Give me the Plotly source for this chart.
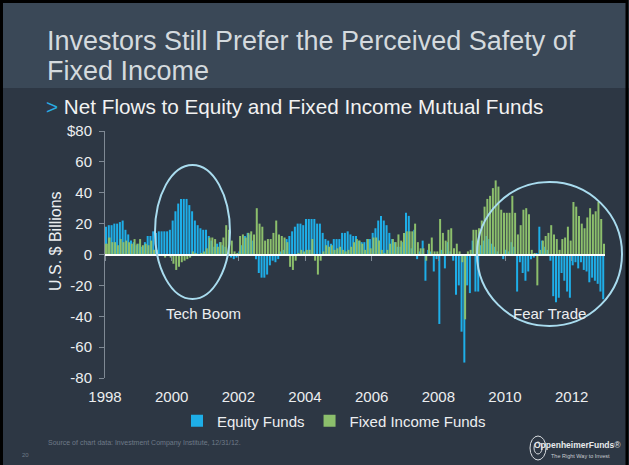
import plotly.graph_objects as go

# Monthly net flows, $ billions, Jan 1998 - Dec 2012
equity_by_year = {
    1998: [18, 19, 19, 20, 20, 21, 22, 16, 13, 9, 8, 6],
    1999: [7, 5, 8, 12, 12, 15, 14, 15, 15, 15, 15, 16],
    2000: [22, 28, 33, 36, 36, 36, 32, 28, 22, 19, 17, 16],
    2001: [16, 12, 9, 5, 7, 8, 6, 5, 1, -2, -3, -2],
    2002: [2, 6, 12, 14, 13, 9, -3, -12, -15, -15, -13, -7],
    2003: [-4, -5, -3, 2, 3, 10, 12, 15, 18, 20, 20, 19],
    2004: [23, 23, 23, 23, 20, 20, 14, 10, 9, 7, 10, 10],
    2005: [10, 14, 14, 15, 13, 12, 12, 9, 8, 8, 10, 10],
    2006: [14, 17, 22, 25, 22, 19, 14, 10, 8, 5, 5, 8],
    2007: [27, 25, 4, 16, -3, 2, 9, -17, 3, 2, -11, -3],
    2008: [-45, 3, -9, 8, 2, -4, -26, -20, -50, -70, -20, -25],
    2009: [9, -24, -24, 6, 9, 12, 10, 7, 5, 2, -1, -3],
    2010: [3, 2, 8, 5, -24, -5, -12, -17, -11, -3, -2, 1],
    2011: [18, 9, 5, 3, -4, -27, -31, -28, -12, -17, -24, -28],
    2012: [-7, -5, -9, -5, -10, -11, -18, -15, -17, -19, -24, -29],
}
fixed_by_year = {
    1998: [7, 11, 8, 8, 6, 10, 8, 9, 8, 7, 10, 7],
    1999: [10, 6, 7, 6, 9, 3, 3, -1, -1, -2, -1, -2],
    2000: [-6, -10, -8, -5, -4, -3, -2, 2, 1, -1, 1, 2],
    2001: [4, 11, 11, 10, 5, 8, 11, 19, 16, 9, 2, 1],
    2002: [12, 13, 11, 14, 15, 13, 30, 20, 18, 9, 10, 10],
    2003: [14, 22, 13, 12, 11, 8, -8, -10, -4, 1, 3, 2],
    2004: [3, 3, 10, -4, -13, -4, 2, 6, 5, 6, 3, 4],
    2005: [5, 3, 2, 3, 5, 8, 10, 9, 7, 3, 10, 4],
    2006: [11, 11, 9, 3, 1, 3, 7, 10, 8, 13, 9, 14],
    2007: [15, 15, 15, 20, 8, 4, 4, -4, 7, 11, 2, 2],
    2008: [23, 14, 9, 16, 17, 4, 7, 2, -5, -42, 2, 3],
    2009: [16, 16, 17, 22, 31, 36, 38, 43, 48, 44, 29, 27],
    2010: [27, 27, 38, 27, 13, 19, 29, 30, 26, 3, 1, -20],
    2011: [3, 9, 12, 14, 19, 13, 10, 3, 10, 11, 18, 9],
    2012: [34, 31, 25, 20, 17, 24, 30, 26, 28, 34, 23, 7],
}
tick_years = [1998, 2000, 2002, 2004, 2006, 2008, 2010, 2012]
y_ticks = [-80, -60, -40, -20, 0, 20, 40, 60, 80]

equity = [v for yr in sorted(equity_by_year) for v in equity_by_year[yr]]
fixed = [v for yr in sorted(fixed_by_year) for v in fixed_by_year[yr]]
months = list(range(len(equity)))
tickvals = [(y - 1998) * 12 - 0.5 for y in tick_years]

BG = "#2d3744"
BAND = "#3a4857"
BLUE = "#1eaee8"
GREEN = "#8cbf6c"
AXIS = "#7f8994"
TXT = "#eceef0"

# plot area in pixels: left 105, right 605, top 131, bottom 378
L, R, T, B = 105, 605, 131, 378
def px(x):
    return (x - L) / (R - L)
def py(y):
    return (B - y) / (B - T)

fig = go.Figure()
fig.add_trace(go.Bar(x=months, y=equity, name="Equity Funds", marker_color=BLUE,
                     marker_line_width=0, width=0.72, offset=-0.5))
fig.add_trace(go.Bar(x=months, y=fixed, name="Fixed Income Funds", marker_color=GREEN,
                     marker_line_width=0, width=0.72, offset=-0.22, xaxis="x2"))

fig.update_layout(
    width=629, height=465,
    margin=dict(l=L, r=629 - R, t=T, b=465 - B),
    paper_bgcolor=BG, plot_bgcolor=BG,
    barmode="overlay",
    font=dict(family="Liberation Sans, Arial, sans-serif", color=TXT),
    xaxis=dict(range=[-0.5, 179.5], tickvals=tickvals, ticktext=[str(y) for y in tick_years],
               showline=False, ticks="", showgrid=False, zeroline=False,
               tickfont=dict(size=15, color=TXT), ticklabelstandoff=8),
    xaxis2=dict(range=[-0.5, 179.5], overlaying="x", anchor="free", position=0.5, side="bottom",
                showline=True, linecolor="white", linewidth=2, ticks="outside", ticklen=5,
                tickcolor=AXIS, tickwidth=1, tickvals=tickvals, showticklabels=False,
                showgrid=False, zeroline=False),
    yaxis=dict(range=[-80, 80], tickvals=y_ticks,
               ticktext=[str(v) for v in y_ticks[:-1]] + ["$80"],
               showline=True, linecolor=AXIS, linewidth=1, ticks="outside", ticklen=5,
               tickcolor=AXIS, showgrid=False, zeroline=False,
               tickfont=dict(size=15, color=TXT), ticklabelstandoff=4),
    legend=dict(orientation="h", x=px(334), xanchor="center", y=py(421), yanchor="middle",
                font=dict(size=15, color=TXT), bgcolor="rgba(0,0,0,0)", itemwidth=30,
                traceorder="normal"),
    showlegend=True,
)

shapes = [
    # title band
    dict(type="rect", xref="paper", yref="paper", x0=px(0), x1=px(629), y0=py(88), y1=py(0),
         fillcolor=BAND, line_width=0, layer="below"),
    # frame
    dict(type="rect", xref="paper", yref="paper", x0=px(1.5), x1=px(627), y0=py(470), y1=py(1.5),
         fillcolor="rgba(0,0,0,0)", line=dict(color="black", width=3)),
    # Tech Boom ellipse
    dict(type="circle", xref="paper", yref="paper", x0=px(155), x1=px(230), y0=py(299), y1=py(165),
         line=dict(color="#a9dcef", width=2)),
    # Fear Trade circle
    dict(type="circle", xref="paper", yref="paper", x0=px(477), x1=px(622), y0=py(326), y1=py(182),
         line=dict(color="#a9dcef", width=2)),
    # logo emblem
    dict(type="circle", xref="paper", yref="paper", x0=px(530), x1=px(546), y0=py(460), y1=py(436),
         line=dict(color="#d8dce0", width=1)),
    dict(type="circle", xref="paper", yref="paper", x0=px(534), x1=px(542), y0=py(454), y1=py(442),
         line=dict(color="#d8dce0", width=1)),
]
fig.update_layout(shapes=shapes)

def note(x, y, text, size, color=TXT, xanchor="left", **kw):
    fig.add_annotation(xref="paper", yref="paper", x=px(x), y=py(y), text=text, showarrow=False,
                       xanchor=xanchor, yanchor="middle", font=dict(size=size, color=color), **kw)

note(45, 41, "Investors Still Prefer the Perceived Safety of", 27, "#d4dade")
note(45, 71, "Fixed Income", 27, "#d4dade")
note(44, 106, '<span style="color:#29abe2">&gt;</span> Net Flows to Equity and Fixed Income Mutual Funds',
     20.7, "#f2f2f2")
note(55, 241, "U.S. $ Billions", 16, TXT, xanchor="center", textangle=-90)
note(203, 313, "Tech Boom", 15, TXT, xanchor="center")
note(549, 313, "Fear Trade", 15, TXT, xanchor="center")
note(46, 443, "Source of chart data: Investment Company Institute, 12/31/12.", 7, "#6e7a88")
note(20, 455, "20", 6, "#6e7a88")
note(623, 445, "<b>OppenheimerFunds</b>®", 8.5, "#e8eaec", xanchor="right")
note(549, 456, "The Right Way to Invest", 5.5, "#c8ccd0")

fig.write_html("out.html", config={"displayModeBar": False},
               post_script="document.body.style.margin='0';")
